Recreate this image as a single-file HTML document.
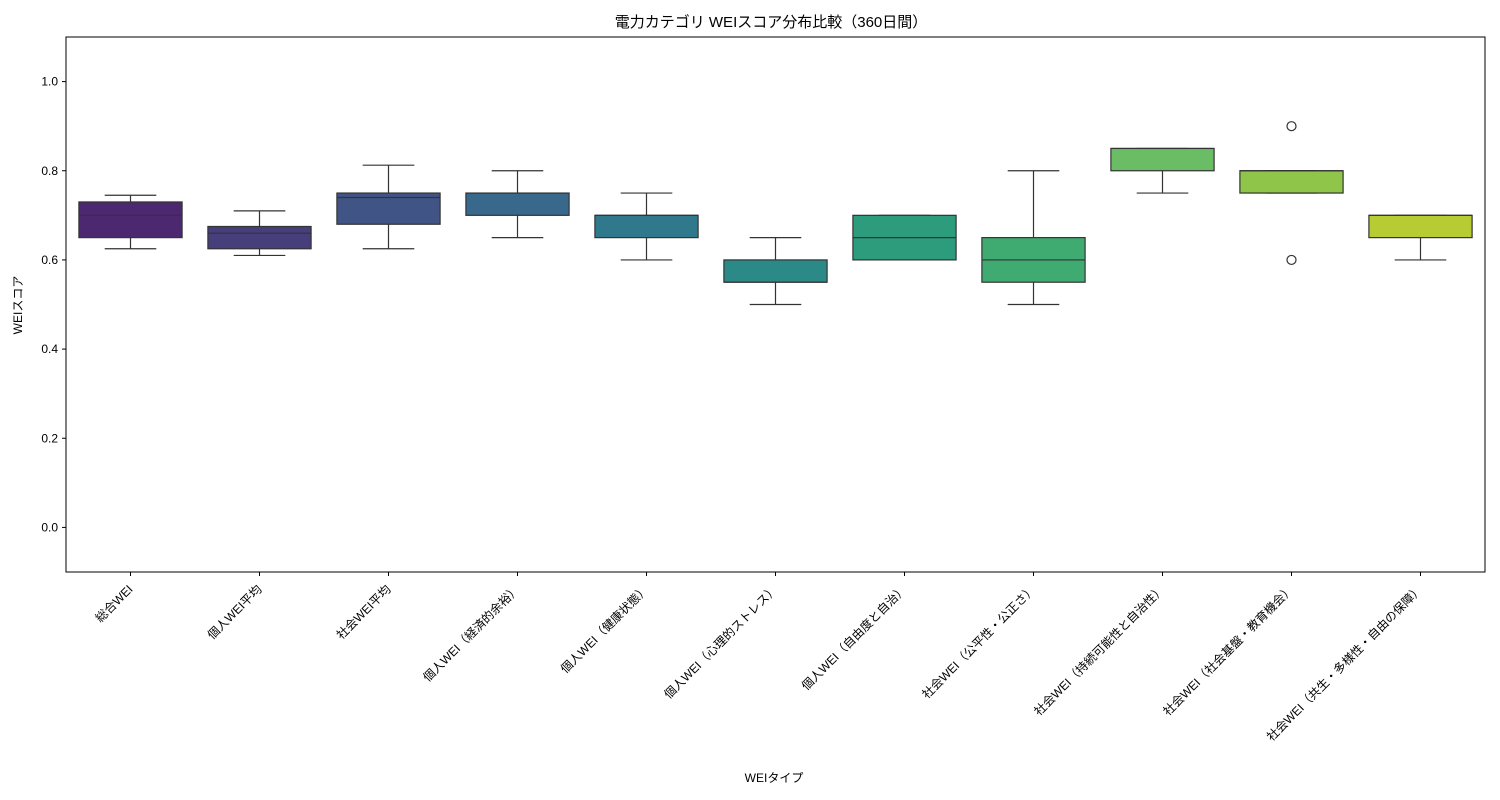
<!DOCTYPE html>
<html><head><meta charset="utf-8">
<style>
html,body{margin:0;padding:0;background:#fff;}
svg{display:block;font-family:"Liberation Sans","Noto Sans CJK JP",sans-serif;}
</style></head>
<body>
<svg id="chart" width="1500" height="800" xmlns="http://www.w3.org/2000/svg">
<rect x="0" y="0" width="1500" height="800" fill="#fff"/>
<text x="771" y="27" text-anchor="middle" font-size="15" fill="#000">電力カテゴリ WEIスコア分布比較（360日間）</text>
<text x="774" y="782" text-anchor="middle" font-size="12" fill="#000">WEIタイプ</text>
<text transform="translate(22,305) rotate(-90)" text-anchor="middle" font-size="12" fill="#000">WEIスコア</text>
<g id="marks"></g>
<rect x="66" y="37" width="1419" height="535" fill="none" stroke="#000" stroke-width="1"/>
</svg>
<script>
const categories=["総合WEI","個人WEI平均","社会WEI平均","個人WEI（経済的余裕）","個人WEI（健康状態）","個人WEI（心理的ストレス）","個人WEI（自由度と自治）","社会WEI（公平性・公正さ）","社会WEI（持続可能性と自治性）","社会WEI（社会基盤・教育機会）","社会WEI（共生・多様性・自由の保障）"];
const whiskerLow=[0.625,0.61,0.625,0.65,0.60,0.50,0.60,0.50,0.75,0.75,0.60];
const q1=[0.65,0.625,0.68,0.70,0.65,0.55,0.60,0.55,0.80,0.75,0.65];
const medians=[0.70,0.66,0.74,0.75,0.70,0.55,0.65,0.60,0.85,0.80,0.70];
const q3=[0.73,0.675,0.75,0.75,0.70,0.60,0.70,0.65,0.85,0.80,0.70];
const whiskerHigh=[0.745,0.71,0.8125,0.80,0.75,0.65,0.70,0.80,0.85,0.80,0.70];
const outlierCat=[9,9];
const outlierVal=[0.90,0.60];
const yTicks=[0.0,0.2,0.4,0.6,0.8,1.0];
const colors=["#4b2870","#473f7c","#405486","#38688b","#30798d","#2b8a88","#2c9c7c","#3fab70","#6abd64","#8fc64a","#b7cb33"];
const X0=66,X1=1485,Y0=37,Y1=572,yMin=-0.1,yMax=1.1;
const step=(X1-X0)/categories.length;
function xPos(i){return X0+step*(i+0.5);}
function yPos(v){return Y1-(v-yMin)/(yMax-yMin)*(Y1-Y0);}
const NS="http://www.w3.org/2000/svg";
const g=document.getElementById("marks");
function mk(tag,attrs){const e=document.createElementNS(NS,tag);for(const k in attrs)e.setAttribute(k,attrs[k]);g.appendChild(e);return e;}
yTicks.forEach(t=>{
  const y=yPos(t);
  const l=mk("line",{x1:X0-4,x2:X0,y1:y,y2:y,stroke:"#000"});
  
  
  const tx=mk("text",{x:X0-8,y:y+4,"text-anchor":"end","font-size":"12"});
  tx.textContent=t.toFixed(1);
  
  
});
const bw=step*0.8, cw=bw*0.5;
categories.forEach((c,i)=>{
  const x=xPos(i);
  const grp=document.createElementNS(NS,"g");g.appendChild(grp);
  
  
  const add=(tag,a)=>{const e=document.createElementNS(NS,tag);for(const k in a)e.setAttribute(k,a[k]);grp.appendChild(e);return e;};
  const s={stroke:"#333","stroke-width":"1.2",fill:"none"};
  add("line",Object.assign({x1:x,x2:x,y1:yPos(whiskerLow[i]),y2:yPos(q1[i])},s));
  add("line",Object.assign({x1:x,x2:x,y1:yPos(q3[i]),y2:yPos(whiskerHigh[i])},s));
  add("line",Object.assign({x1:x-cw/2,x2:x+cw/2,y1:yPos(whiskerLow[i]),y2:yPos(whiskerLow[i])},s));
  add("line",Object.assign({x1:x-cw/2,x2:x+cw/2,y1:yPos(whiskerHigh[i]),y2:yPos(whiskerHigh[i])},s));
  add("rect",{x:x-bw/2,y:yPos(q3[i]),width:bw,height:Math.max(0.5,yPos(q1[i])-yPos(q3[i])),fill:colors[i],stroke:"#333","stroke-width":"1.2"});
  add("line",Object.assign({x1:x-bw/2,x2:x+bw/2,y1:yPos(medians[i]),y2:yPos(medians[i])},s));
  const t=mk("line",{x1:x,x2:x,y1:Y1,y2:Y1+4,stroke:"#000"});
  
  
  const lb=mk("text",{transform:`translate(${x+3},${Y1+18}) rotate(-45)`,"text-anchor":"end","font-size":"12"});
  lb.textContent=c;
  
  
});
outlierCat.forEach((ci,k)=>{
  const o=mk("circle",{cx:xPos(ci),cy:yPos(outlierVal[k]),r:4.5,fill:"none",stroke:"#333","stroke-width":"1.2"});
  
  
});
</script>
</body></html>
